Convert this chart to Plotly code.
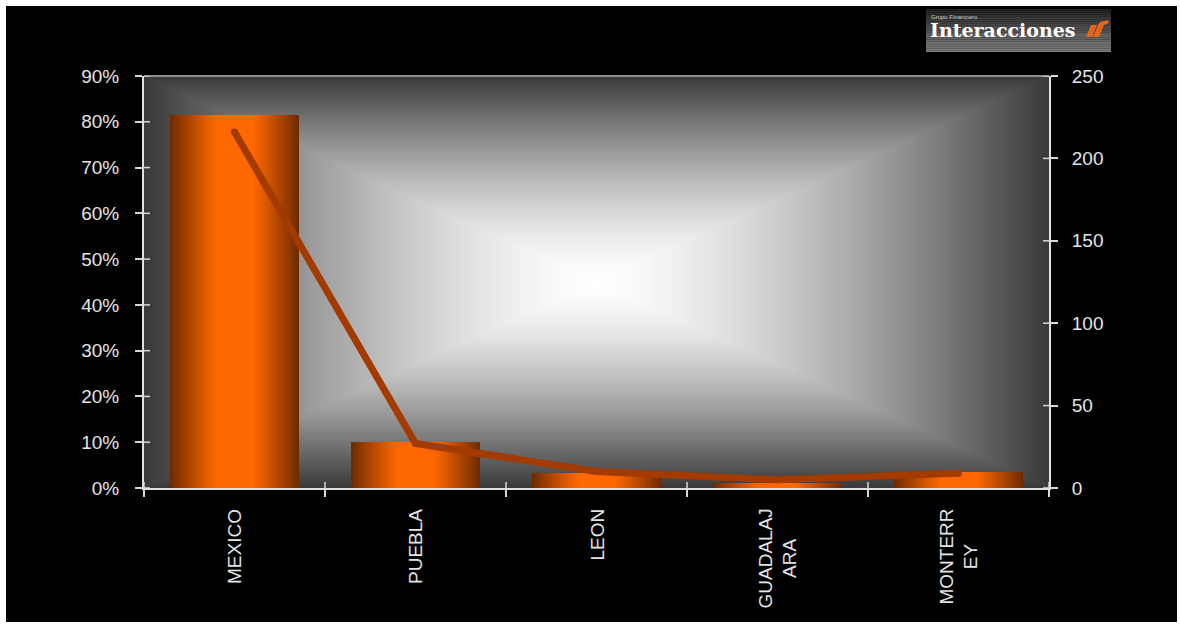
import plotly.graph_objects as go

# ---- data -------------------------------------------------------------
cities = ["MEXICO", "PUEBLA", "LEON", "GUADALAJARA", "MONTERREY"]
city_labels = ["MEXICO", "PUEBLA", "LEON", "GUADALAJ<br>ARA", "MONTERR<br>EY"]
share_pct = [81.5, 10.1, 3.3, 1.1, 3.4]        # bars, left axis (%)
count = [216, 27, 10, 5, 9]                    # line, right axis
left_ticks = [0, 10, 20, 30, 40, 50, 60, 70, 80, 90]
left_tick_text = ["0%", "10%", "20%", "30%", "40%", "50%", "60%", "70%", "80%", "90%"]
right_ticks = [0, 50, 100, 150, 200, 250]

# ---- geometry helpers (page pixels -> paper fractions) -----------------
W, H = 1180, 627
L, R, T, B = 144, 1049, 76, 488
def px(x):
    return (x - L) / (R - L)
def py(y):
    return (B - y) / (B - T)

def lerp(c0, c1, f):
    return tuple(round(a + (b - a) * f) for a, b in zip(c0, c1))
def rgb(c):
    return "rgb(%d,%d,%d)" % c

fig = go.Figure()

# bars with a horizontal shaded look: nested overlay bars, brighter inward
BAR_W = 0.71
N_LAYERS = 40
dark = (112, 44, 0)
bright = (255, 104, 0)
for k in range(N_LAYERS):
    d = 1 - k / N_LAYERS                       # half-width fraction
    s = min(max((d - 0.28) / 0.72, 0.0), 1.0)
    col = lerp(bright, dark, s ** 1.1)
    fig.add_trace(go.Bar(
        x=cities, y=share_pct, width=BAR_W * d,
        marker=dict(color=rgb(col), line=dict(width=0)),
        showlegend=False, hoverinfo="skip" if k else "x+y",
    ))

fig.add_trace(go.Scatter(
    x=cities, y=count, yaxis="y2", mode="lines+markers",
    line=dict(color="#A33A00", width=7),
    marker=dict(color="#A33A00", size=7, line=dict(width=0)),
    showlegend=False,
))

shapes = []
# black chart frame on white page
shapes.append(dict(type="rect", xref="paper", yref="paper",
                   x0=px(6), x1=px(1177), y0=py(622), y1=py(6),
                   fillcolor="black", line=dict(width=0), layer="below"))
# rectangular "from centre" gradient in the plotting area
N_RECT = 90
edge = (58, 58, 58)
white = (255, 255, 255)
for i in range(N_RECT):
    t = 1 - i / N_RECT
    col = lerp(white, edge, t ** 1.5)
    shapes.append(dict(type="rect", xref="paper", yref="paper",
                       x0=0.5 - t / 2, x1=0.5 + t / 2,
                       y0=0.5 - t / 2, y1=0.5 + t / 2,
                       fillcolor=rgb(col), line=dict(width=0), layer="below"))
# top border of the plotting area
shapes.append(dict(type="line", xref="paper", yref="paper", x0=0, x1=1, y0=1, y1=1,
                   line=dict(color="#8c8c8c", width=2), layer="above"))
# inner halves of the crossing tick marks
for v in left_ticks:
    shapes.append(dict(type="line", xref="paper", yref="y", xsizemode="pixel", xanchor=0,
                       x0=0, x1=6, y0=v, y1=v, line=dict(color="#d8d8d8", width=1.5)))
for v in right_ticks:
    shapes.append(dict(type="line", xref="paper", yref="y2", xsizemode="pixel", xanchor=1,
                       x0=-6, x1=0, y0=v, y1=v, line=dict(color="#d8d8d8", width=1.5)))
for k in range(len(cities) + 1):
    shapes.append(dict(type="line", xref="x", yref="paper", ysizemode="pixel", yanchor=0,
                       x0=k - 0.5, x1=k - 0.5, y0=0, y1=6, line=dict(color="#d8d8d8", width=1.5)))

# logo box with vertical grey gradient
N_STRIPE = 24
lx0, lx1, ly0, ly1 = 926, 1111, 9, 52
for i in range(N_STRIPE):
    ya = ly0 + (ly1 - ly0) * i / N_STRIPE
    yb = ly0 + (ly1 - ly0) * (i + 1) / N_STRIPE
    col = lerp((34, 34, 34), (128, 128, 128), (i / (N_STRIPE - 1)) ** 0.9)
    shapes.append(dict(type="rect", xref="paper", yref="paper",
                       x0=px(lx0), x1=px(lx1), y0=py(yb), y1=py(ya),
                       fillcolor=rgb(col), line=dict(width=0), layer="above"))
# logo mark: two slanted orange strokes
def poly(pts):
    return "M " + " L ".join("%.5f,%.5f" % (px(x), py(y)) for x, y in pts) + " Z"
shapes.append(dict(type="path", xref="paper", yref="paper",
                   path=poly([(1086, 37), (1092, 37), (1097, 25), (1091, 25)]),
                   fillcolor="#E8641A", line=dict(width=0), layer="above"))
shapes.append(dict(type="path", xref="paper", yref="paper",
                   path=poly([(1093, 37), (1099, 37), (1104, 25), (1109, 23), (1108, 20),
                              (1100, 22), (1098, 25)]),
                   fillcolor="#E8641A", line=dict(width=0), layer="above"))

annotations = []
for c, lab in zip(cities, city_labels):
    annotations.append(dict(x=c, xref="x", y=0, yref="paper", yshift=-19,
                            yanchor="top", xanchor="center", text=lab, textangle=-90,
                            align="center", showarrow=False,
                            font=dict(family="Liberation Sans, Arial", size=19, color="#e4e4e4")))
annotations.append(dict(x=px(928), y=py(30), xref="paper", yref="paper",
                        xanchor="left", yanchor="middle", text="Interacciones",
                        showarrow=False,
                        font=dict(family="DejaVu Serif", size=19, color="white", weight="bold")))
annotations.append(dict(x=px(929), y=py(17), xref="paper", yref="paper",
                        xanchor="left", yanchor="middle", text="Grupo Financiero",
                        showarrow=False,
                        font=dict(family="Liberation Sans", size=6, color="#cfcfcf")))

tick_font = dict(family="Liberation Sans, Arial", size=19, color="#e4e4e4")
fig.update_layout(
    width=W, height=H,
    margin=dict(l=L, r=W - R, t=T, b=H - B, pad=0),
    paper_bgcolor="white",
    plot_bgcolor="rgba(0,0,0,0)",
    barmode="overlay",
    bargap=0,
    shapes=shapes,
    annotations=annotations,
    xaxis=dict(
        type="category", range=[-0.5, len(cities) - 0.5],
        showline=True, linecolor="#e0e0e0", linewidth=2,
        ticks="outside", tickson="boundaries", ticklen=7, tickwidth=1.5, tickcolor="#d8d8d8",
        showticklabels=False, showgrid=False, zeroline=False,
    ),
    yaxis=dict(
        range=[0, 90], tickmode="array", tickvals=left_ticks, ticktext=left_tick_text,
        showline=True, linecolor="#e0e0e0", linewidth=2,
        ticks="outside", ticklen=7, tickwidth=1.5, tickcolor="#d8d8d8",
        ticklabelstandoff=12,
        tickfont=tick_font, showgrid=False, zeroline=False,
    ),
    yaxis2=dict(
        overlaying="y", side="right", range=[0, 250], tickmode="array", tickvals=right_ticks,
        showline=True, linecolor="#e0e0e0", linewidth=2,
        ticks="outside", ticklen=7, tickwidth=1.5, tickcolor="#d8d8d8",
        ticklabelstandoff=10,
        tickfont=tick_font, showgrid=False, zeroline=False,
    ),
)

fig.write_html("out.html")
